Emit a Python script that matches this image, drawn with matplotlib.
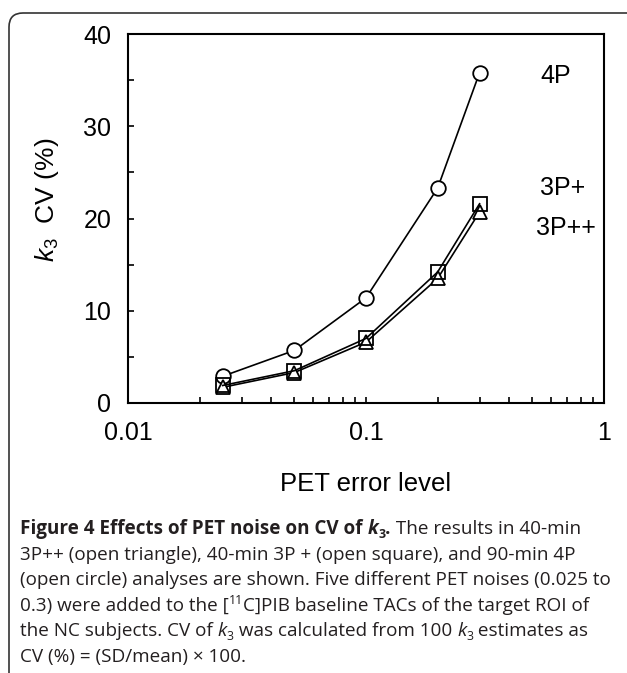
import matplotlib
matplotlib.use("Agg")
import matplotlib.pyplot as plt
from matplotlib.patches import FancyBboxPatch
from matplotlib.transforms import IdentityTransform
from matplotlib.ticker import LogLocator, NullFormatter, FixedLocator

W, H = 627, 673

# data
pet_error = [0.025, 0.05, 0.1, 0.2, 0.3]
cv_4p = [2.9, 5.7, 11.4, 23.3, 35.8]
cv_3p_plus = [1.9, 3.5, 7.0, 14.2, 21.6]
cv_3p_plusplus = [1.7, 3.3, 6.6, 13.5, 20.7]
series_names = ["4P", "3P+", "3P++"]
name_pos = [(0.54, 35.4), (0.54, 23.3), (0.52, 19.0)]

plt.rcParams["font.family"] = ["Liberation Sans", "DejaVu Sans"]
plt.rcParams["mathtext.fontset"] = "custom"
plt.rcParams["mathtext.it"] = "Liberation Sans:italic"
plt.rcParams["mathtext.rm"] = "Liberation Sans"

fig = plt.figure(figsize=(W / 100, H / 100), dpi=100)
ax = fig.add_axes([128 / W, 1 - 403 / H, (604 - 128) / W, (403 - 34) / H])

line_kw = dict(color="black", lw=1.2, mec="black", mew=1.3)
ax.plot(pet_error, cv_4p, marker="o", ms=10.5, mfc="white", zorder=3, **line_kw)
ax.plot(pet_error, cv_3p_plusplus, marker="^", ms=10.5, mfc="white", zorder=4, **line_kw)
ax.plot(pet_error, cv_3p_plus, marker="s", ms=10, mfc="none", zorder=5, **line_kw)

for name, (px, py) in zip(series_names, name_pos):
    ax.text(px, py, name, fontsize=18, va="center", ha="left")

ax.set_xscale("log")
ax.set_xlim(0.01, 1)
ax.set_ylim(0, 40)
ax.xaxis.set_major_locator(FixedLocator([0.01, 0.1, 1]))
ax.set_xticklabels(["0.01", "0.1", "1"])
ax.xaxis.set_minor_locator(LogLocator(base=10, subs=range(2, 10)))
ax.xaxis.set_minor_formatter(NullFormatter())
ax.set_yticks([0, 10, 20, 30, 40])
ax.set_yticks([5, 15, 25, 35], minor=True)
ax.tick_params(which="both", direction="in", length=4.5, width=1.2,
               labelsize=18, top=False, right=False)
ax.tick_params(axis="x", pad=13)
ax.tick_params(axis="y", pad=12)
for s in ax.spines.values():
    s.set_linewidth(1.5)

ax.set_ylabel(r"$k_3$  CV (%)", fontsize=19)
ax.yaxis.set_label_coords(-0.14, 0.55)

fig.text(366 / W, 1 - 484 / H, "PET error level", fontsize=18.5,
         ha="center", va="center")

# outer rounded frame
frame = FancyBboxPatch((9, -20), 640, H - 13 + 20,
                       boxstyle="round,pad=0,rounding_size=14",
                       transform=IdentityTransform(), fill=False,
                       ec="#333333", lw=1.2, clip_on=False)
fig.patches.append(frame)

# caption, drawn run by run
cap_font = ["Open Sans", "DejaVu Sans"]
cap_size = 13.6
cap_color = "#231f20"
renderer = fig.canvas.get_renderer()


def draw_runs(x, y, runs):
    for text, style in runs:
        flags = style.split()
        size = cap_size
        dy = 0
        if "sub" in flags:
            size = cap_size * 0.65
            dy = -4
        if "sup" in flags:
            size = cap_size * 0.65
            dy = 7
        t = fig.text(x, H - y + dy, text, transform=IdentityTransform(),
                     fontsize=size,
                     fontweight="bold" if "b" in flags else "normal",
                     fontstyle="italic" if "i" in flags else "normal",
                     family=cap_font, color=cap_color, va="baseline")
        x += t.get_window_extent(renderer).width


caption = [
    [("Figure 4 Effects of PET noise on CV of ", "b"), ("k", "b i"),
     ("3", "b sub"), (".", "b"), (" The results in 40-min", "")],
    [("3P++ (open triangle), 40-min 3P + (open square), and 90-min 4P", "")],
    [("(open circle) analyses are shown. Five different PET noises (0.025 to", "")],
    [("0.3) were added to the [", ""), ("11", "sup"),
     ("C]PIB baseline TACs of the target ROI of", "")],
    [("the NC subjects. CV of ", ""), ("k", "i"), ("3", "sub"),
     (" was calculated from 100 ", ""), ("k", "i"), ("3", "sub"),
     (" estimates as", "")],
    [("CV (%) = (SD/mean) \u00d7 100.", "")],
]
for i, runs in enumerate(caption):
    draw_runs(20, 534 + 25.6 * i, runs)

fig.savefig("out.png", dpi=100)
